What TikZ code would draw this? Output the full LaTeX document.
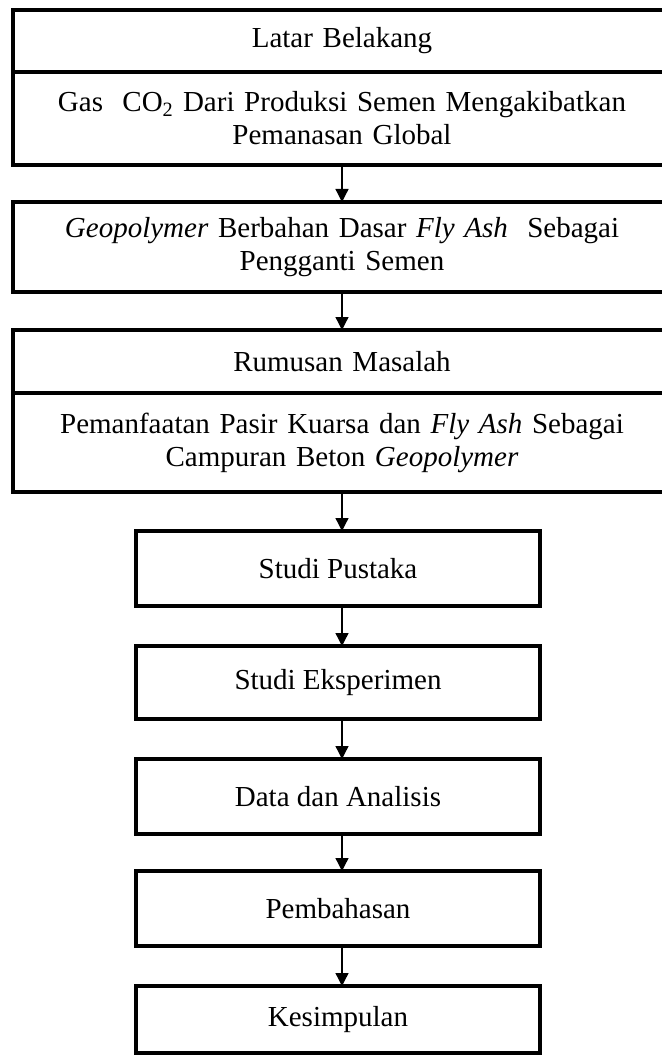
\documentclass[tikz,border=0pt]{standalone}
\usepackage{fontspec}
\setmainfont{Liberation Serif}
\usetikzlibrary{positioning,arrows.meta}
\tikzstyle{kotakbesar} = [draw, line width=3.2pt, rectangle, outer sep=0pt, inner xsep=4pt, minimum width=658pt, text width=640pt, align=center, font=\fontsize{29}{33}\selectfont]
\tikzstyle{kotak} = [draw, line width=3.2pt, rectangle, outer sep=0pt, minimum width=404pt, align=center, font=\fontsize{29}{33}\selectfont]
\tikzstyle{panah} = [-{Triangle[length=13pt,width=13pt]}, line width=1.3pt]

\begin{document}
\begin{tikzpicture}
	\useasboundingbox (0,0) rectangle (661pt,-1056pt);
	\node[kotakbesar, minimum height=62pt] (latar) at (342pt,-41pt) {Latar Belakang};
	\node[kotakbesar, minimum height=93pt, below=0pt of latar] (gas) {Gas\ \ CO\textsubscript{2} Dari Produksi Semen Mengakibatkan\\Pemanasan Global};
	\node[kotakbesar, minimum height=90pt, below=37pt of gas] (geo) {\textit{Geopolymer} Berbahan Dasar \textit{Fly Ash}\ \ Sebagai\\Pengganti Semen};
	\node[kotakbesar, minimum height=63pt, below=38pt of geo] (rumusan) {Rumusan Masalah};
	\node[kotakbesar, minimum height=99pt, below=0pt of rumusan] (manfaat) {Pemanfaatan Pasir Kuarsa dan \textit{Fly Ash} Sebagai\\Campuran Beton \textit{Geopolymer}};
	\node[kotak, minimum height=75pt, below=39pt of manfaat, xshift=-4pt] (pustaka) {Studi Pustaka};
	\node[kotak, minimum height=73pt, below=40pt of pustaka] (eksperimen) {Studi Eksperimen};
	\node[kotak, minimum height=75pt, below=40pt of eksperimen] (data) {Data dan Analisis};
	\node[kotak, minimum height=75pt, below=37pt of data] (bahas) {Pembahasan};
	\node[kotak, minimum height=67pt, below=40pt of bahas] (simpul) {Kesimpulan};
	% panah antar kotak
	\foreach \a/\b in {gas/geo, geo/rumusan, manfaat/pustaka, pustaka/eksperimen, eksperimen/data, data/bahas, bahas/simpul}
		\draw[panah] (\a.south -| latar.south) -- (\b.north -| latar.south);
\end{tikzpicture}
\end{document}
